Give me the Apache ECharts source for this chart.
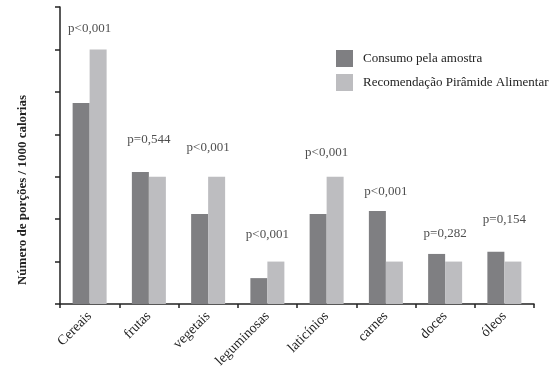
<!DOCTYPE html>
<html>
<head>
<meta charset="utf-8">
<script src="https://cdn.jsdelivr.net/npm/echarts@6/dist/echarts.min.js"></script>
<style>
  html, body { margin: 0; padding: 0; background: #fff; }
  #chart { width: 555px; height: 372px; }
</style>
</head>
<body>
<div id="chart"></div>
<script>
// dados (unidades = marcas do eixo y)
var categorias = ['Cereais', 'frutas', 'vegetais', 'leguminosas', 'laticínios', 'carnes', 'doces', 'óleos'];
var consumo = [4.74, 3.11, 2.12, 0.61, 2.12, 2.19, 1.18, 1.23];
var recomendacao = [6, 3, 3, 1, 3, 1, 1, 1];
var pValores = ['p<0,001', 'p=0,544', 'p<0,001', 'p<0,001', 'p<0,001', 'p<0,001', 'p=0,282', 'p=0,154'];
var pAltura = [6.49, 3.87, 3.68, 1.63, 3.56, 2.64, 1.65, 2.0];

var fonte = '"Liberation Serif", "DejaVu Serif", serif';
var chart = echarts.init(document.getElementById('chart'));

var option = {
  animation: false,
  backgroundColor: '#fff',
  color: ['#7f7f82', '#bdbdc0'],
  grid: { left: 60, right: 21, top: 7, bottom: 68 },
  legend: {
    orient: 'vertical',
    left: 331,
    top: 45,
    itemWidth: 17,
    itemHeight: 17,
    itemGap: 7,
    icon: 'rect',
    data: ['Consumo pela amostra', 'Recomendação Pirâmide Alimentar'],
    textStyle: { fontFamily: fonte, fontSize: 13, color: '#222', padding: [0, 0, 0, 5] }
  },
  xAxis: {
    type: 'category',
    data: categorias,
    axisLine: { lineStyle: { color: '#222', width: 1.5 } },
    axisTick: { show: true, length: 4, lineStyle: { color: '#222', width: 1.5 } },
    axisLabel: { rotate: 45, fontFamily: fonte, fontSize: 14, color: '#222', margin: 10, interval: 0, padding: [12, 0, 0, 0] }
  },
  yAxis: {
    type: 'value',
    min: 0,
    max: 7,
    interval: 1,
    name: 'Número de porções / 1000 calorias',
    nameLocation: 'middle',
    nameGap: 31,
    nameTextStyle: { fontFamily: fonte, fontSize: 13, fontWeight: 'bold', color: '#222', padding: [0, 69, 0, 0] },
    axisLine: { show: true, lineStyle: { color: '#222', width: 1.5 } },
    axisTick: { show: true, length: 5, lineStyle: { color: '#222', width: 1.5 } },
    axisLabel: { show: false },
    splitLine: { show: false }
  },
  series: [
    {
      name: 'Consumo pela amostra',
      type: 'bar',
      barWidth: 17,
      barGap: '0%',
      data: consumo
    },
    {
      name: 'Recomendação Pirâmide Alimentar',
      type: 'bar',
      barWidth: 17,
      data: recomendacao
    },
    {
      name: 'p',
      type: 'scatter',
      symbolSize: 0,
      silent: true,
      data: pAltura.map(function (v, i) { return [i, v]; }),
      label: {
        show: true,
        position: 'inside',
        fontFamily: fonte,
        fontSize: 13,
        color: '#222',
        formatter: function (p) { return pValores[p.dataIndex]; }
      }
    }
  ]
};
chart.setOption(option);
</script>
</body>
</html>
